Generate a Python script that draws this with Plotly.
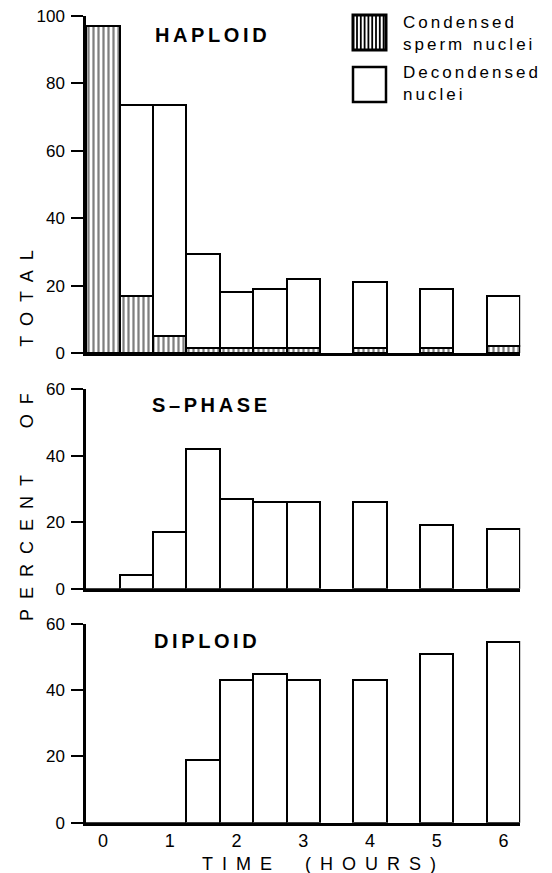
import plotly.graph_objects as go

# ---------------- data ----------------
times = [0, 0.5, 1, 1.5, 2, 2.5, 3, 4, 5, 6]
haploid_condensed = [97, 17, 5, 1.5, 1.5, 1.5, 1.5, 1.5, 1.5, 2]
haploid_total = [97, 73.5, 73.5, 29.5, 18, 19, 22, 21, 19, 17]
haploid_decondensed = [t - c for t, c in zip(haploid_total, haploid_condensed)]
s_phase = [0, 4, 17, 42, 27, 26, 26, 26, 19, 18]
diploid = [0, 0, 0, 19, 43, 45, 43, 43, 51, 54.5]

x_tick_vals = [0, 1, 2, 3, 4, 5, 6]
x_tick_text = ["0", "1", "2", "3", "4", "5", "6"]
top_ticks = [0, 20, 40, 60, 80, 100]
lower_ticks = [0, 20, 40, 60]

panel_titles = ["HAPLOID", "S\u2013PHASE", "DIPLOID"]
legend_labels = ["Condensed<br>sperm nuclei", "Decondensed<br>nuclei"]
x_title = "TIME (HOURS)"
y_title = "PERCENT OF TOTAL"

# ---------------- layout helpers ----------------
OFF = 8                      # page body margin
W, H = 552 - OFF, 873 - OFF  # figure size so that it fits the window
FONT = "Liberation Sans, Arial, Helvetica, sans-serif"


def px(x):
    return (x - OFF) / W


def py(y):
    return 1 - (y - OFF) / H


def spaced(text, ls, ws=0):
    return f'<span style="letter-spacing:{ls}px;word-spacing:{ws}px">{text}</span>'


BAR_W = 0.5
LINE = dict(color="black", width=2.2)

fig = go.Figure()

fig.add_trace(go.Bar(
    x=times, y=haploid_condensed, width=BAR_W, xaxis="x", yaxis="y",
    marker=dict(color="white", line=LINE,
                pattern=dict(shape="|", fgcolor="black", bgcolor="white",
                             size=5, solidity=0.45, fillmode="overlay")),
    showlegend=False, name="Condensed sperm nuclei"))
fig.add_trace(go.Bar(
    x=times, y=haploid_decondensed, width=BAR_W, xaxis="x", yaxis="y",
    marker=dict(color="white", line=LINE),
    showlegend=False, name="Decondensed nuclei"))
fig.add_trace(go.Bar(
    x=times, y=s_phase, width=BAR_W, xaxis="x2", yaxis="y2",
    marker=dict(color="white", line=LINE), showlegend=False, name="S-phase"))
fig.add_trace(go.Bar(
    x=times, y=diploid, width=BAR_W, xaxis="x3", yaxis="y3",
    marker=dict(color="white", line=LINE), showlegend=False, name="Diploid"))

x_range = [-0.2547, 6.25]
x_dom = [px(86), px(520.2)]

xcommon = dict(range=x_range, domain=x_dom, showline=True, linecolor="black",
               linewidth=2.5, showgrid=False, zeroline=False, fixedrange=True,
               automargin=False)
ycommon = dict(showline=True, linecolor="black", linewidth=2.5, showgrid=False,
               zeroline=False, ticks="outside", ticklen=12, tickwidth=2,
               tickcolor="black", tickfont=dict(family=FONT, size=17, color="black"),
               ticklabelstandoff=3, ticklabeloverflow="allow", fixedrange=True,
               automargin=False)

fig.update_layout(
    width=W, height=H,
    margin=dict(l=0, r=0, t=0, b=0, pad=0),
    paper_bgcolor="white", plot_bgcolor="white",
    barmode="stack", bargap=0, showlegend=False,
    font=dict(family=FONT, color="black"),
    xaxis=dict(**xcommon, anchor="y", showticklabels=False, ticks=""),
    xaxis2=dict(**xcommon, anchor="y2", showticklabels=False, ticks=""),
    xaxis3=dict(**xcommon, anchor="y3", ticks="", tickvals=x_tick_vals,
                ticktext=x_tick_text, ticklabelstandoff=0,
                tickfont=dict(family=FONT, size=18, color="black")),
    yaxis=dict(**ycommon, anchor="x", domain=[py(353), py(16)], range=[0, 100],
               tickvals=top_ticks),
    yaxis2=dict(**ycommon, anchor="x2", domain=[py(588.7), py(389)], range=[0, 60],
                tickvals=lower_ticks),
    yaxis3=dict(**ycommon, anchor="x3", domain=[py(822.7), py(624)], range=[0, 60],
                tickvals=lower_ticks),
)

annotations = []
# panel titles
for title, (tx, ty) in zip(panel_titles, [(153, 35), (150, 405), (152, 641)]):
    annotations.append(dict(
        text=f"<b>{spaced(title, 3.6)}</b>", x=px(tx), y=py(ty), xref="paper", yref="paper",
        xanchor="left", yanchor="middle", showarrow=False,
        font=dict(family=FONT, size=20, color="black")))
# legend text
for lab, ly in zip(legend_labels, [33, 83]):
    annotations.append(dict(
        text=spaced(lab, 3), x=px(401), y=py(ly), xref="paper", yref="paper",
        xanchor="left", yanchor="middle", align="left", showarrow=False,
        font=dict(family=FONT, size=17, color="black")))
# axis titles
annotations.append(dict(
    text=spaced(x_title, 9, 10), x=px(323), y=py(864), xref="paper", yref="paper",
    xanchor="center", yanchor="middle", showarrow=False,
    font=dict(family=FONT, size=18, color="black")))
annotations.append(dict(
    text=spaced(y_title, 10, 22), x=px(27), y=py(431), xref="paper", yref="paper",
    xanchor="center", yanchor="middle", showarrow=False, textangle=-90,
    font=dict(family=FONT, size=18, color="black")))
fig.update_layout(annotations=annotations)

# legend swatches (decoration)
shapes = []
shapes.append(dict(type="rect", xref="paper", yref="paper",
                   x0=px(353), x1=px(386), y0=py(50), y1=py(15),
                   line=dict(color="black", width=3), fillcolor="white"))
hx = 357.0
while hx < 384:
    shapes.append(dict(type="line", xref="paper", yref="paper",
                       x0=px(hx), x1=px(hx), y0=py(49), y1=py(16),
                       line=dict(color="black", width=1.8)))
    hx += 3.8
shapes.append(dict(type="rect", xref="paper", yref="paper",
                   x0=px(353), x1=px(386), y0=py(102), y1=py(67),
                   line=dict(color="black", width=2.5), fillcolor="white"))
fig.update_layout(shapes=shapes)

fig.write_html("out.html")
